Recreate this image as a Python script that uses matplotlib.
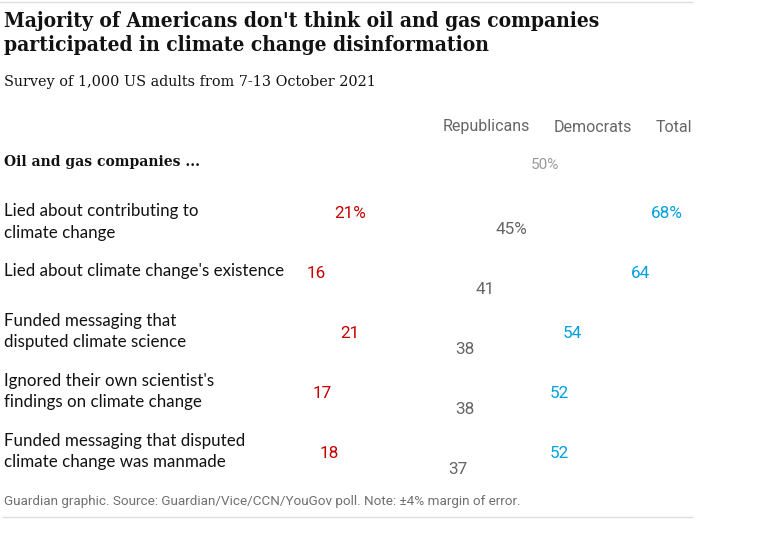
import matplotlib
matplotlib.use("Agg")
from matplotlib import pyplot as plt

# survey data (percent who agree)
statements = [
    "Lied about contributing to\nclimate change",
    "Lied about climate change's existence",
    "Funded messaging that\ndisputed climate science",
    "Ignored their own scientist's\nfindings on climate change",
    "Funded messaging that disputed\nclimate change was manmade",
]
republicans = [21, 16, 21, 17, 18]
democrats = [68, 64, 54, 52, 52]
total = [45, 41, 38, 38, 37]
series_names = ["Republicans", "Democrats", "Total"]
midpoint = 50

RED = "#c70000"
BLUE = "#00a0e0"
GREY = "#666666"
LIGHT = "#999999"
SERIF = "DejaVu Serif"
SANS = "Lato"
NARROW = "Roboto"

W, H = 772, 538
fig = plt.figure(figsize=(W / 100, H / 100), dpi=100)


def fy(px):
    return 1 - px / H


def fx(px):
    return px / W


# value axis laid over the whole figure (px -> value scale)
ax = fig.add_axes([0, 0, 1, 1])
ax.set_xlim(-208 / 6.75, (W - 208) / 6.75)
ax.set_ylim((H - 213) / 60, -213 / 60)
ax.axis("off")

# header rules
fig.add_artist(plt.Line2D([0, fx(692)], [fy(2), fy(2)], color="#dcdcdc", lw=1))
fig.add_artist(plt.Line2D([fx(3), fx(692)], [fy(517), fy(517)], color="#dcdcdc", lw=1))

fig.text(fx(4), fy(11), "Majority of Americans don't think oil and gas companies\n"
         "participated in climate change disinformation",
         family=SERIF, weight="bold", stretch="condensed", fontsize=15,
         va="top", linespacing=1.25, color="#121212")
fig.text(fx(4), fy(82), "Survey of 1,000 US adults from 7-13 October 2021",
         family=SERIF, fontsize=10.4, va="center", color="#121212")

# column headers
for name, px in zip(series_names, [486, 593, 674]):
    fig.text(fx(px), fy(127), name, family=NARROW, fontsize=11.5,
             ha="center", va="center", color=GREY)

fig.text(fx(4), fy(162), "Oil and gas companies ...", family=SERIF, weight="bold",
         fontsize=10, va="center", color="#121212")
ax.text(midpoint, -0.8, f"{midpoint}%", family=NARROW, fontsize=11,
        ha="center", va="center", color=LIGHT)

for i, label in enumerate(statements):
    label_y = i + 0.15 if i == 0 else i - 0.03
    ax.text(-30.25, label_y, label, family=SANS, fontsize=12.2, va="center",
            linespacing=1.4, color="#121212")
    suffix = "%" if i == 0 else ""
    ax.text(republicans[i], i, f"{republicans[i]}{suffix}", family=NARROW,
            fontsize=12.3, ha="center", va="center", color=RED)
    ax.text(democrats[i], i, f"{democrats[i]}{suffix}", family=NARROW,
            fontsize=12.3, ha="center", va="center", color=BLUE)
    ax.text(total[i], i + 0.27, f"{total[i]}{suffix}", family=NARROW,
            fontsize=12.3, ha="center", va="center", color=GREY)

fig.text(fx(4), fy(502), "Guardian graphic. Source: Guardian/Vice/CCN/YouGov poll. "
         "Note: \u00b14% margin of error.", family=NARROW, fontsize=9.7,
         va="center", color="#707070")

fig.savefig("out.png", dpi=100)
